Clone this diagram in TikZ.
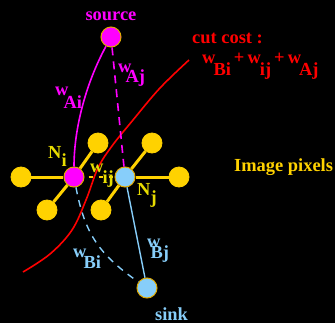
\documentclass[tikz,border=0pt]{standalone}
\usepackage{fontspec}
\setmainfont{Liberation Serif}
\definecolor{gold}{RGB}{255,210,0}
\definecolor{goldline}{RGB}{225,170,0}
\definecolor{nyel}{RGB}{232,220,0}
\definecolor{mag}{RGB}{255,0,255}
\definecolor{lblue}{RGB}{135,206,250}
\definecolor{cred}{RGB}{255,0,0}
\newcommand\wl[3]{w\kern#1bp\raisebox{-#2bp}{#3}}
\begin{document}
\begin{tikzpicture}[x=1bp,y=-1bp,
  every node/.style={font=\fontsize{18.5}{20}\selectfont\bfseries},
  pix/.style={circle,fill=gold,draw=gold,line width=0.8bp,minimum size=20bp,inner sep=0pt},
  term/.style={circle,draw=goldline,line width=1bp,minimum size=20bp,inner sep=0pt},
  lab/.style={anchor=base west,inner sep=0pt},
  yedge/.style={gold,line width=3bp},
]
\fill[black] (0,0) rectangle (335,323);
\useasboundingbox (0,0) rectangle (335,323);

% cut curve
\draw[cred,line width=1.6bp] plot[smooth,tension=0.6] coordinates {(189,60) (160,88) (133,120) (112,146) (98,168) (86,200) (72,230) (50,254) (23,272)};

% pixel nodes
\node[pix] (p1) at (21,177) {};
\node[pix] (p2) at (98,143) {};
\node[pix] (p3) at (47,210) {};
\node[pix] (p4) at (152,143) {};
\node[pix] (p5) at (101,210) {};
\node[pix] (p6) at (179,177) {};
\node[term,fill=mag] (Ni) at (74,177) {};
\node[term,fill=lblue] (Nj) at (125,177) {};
\node[term,fill=mag] (src) at (111,37) {};
\node[term,fill=lblue] (snk) at (147,288) {};

% yellow edges
\draw[yedge] (Ni) -- (p1);
\draw[yedge] (Ni) -- (p2);
\draw[yedge] (Ni) -- (p3);
\draw[yedge] (Nj) -- (p4);
\draw[yedge] (Nj) -- (p5);
\draw[yedge] (Nj) -- (p6);
\draw[gold,line width=2bp,dash pattern=on 4bp off 6bp,dash phase=-4bp] (Ni) -- (Nj);

% t-links
\draw[mag,line width=1.6bp] (src) .. controls (85,85) and (74,130) .. (Ni);
\draw[mag,line width=1.6bp,dash pattern=on 8bp off 6bp] (src) -- (Nj);
\draw[lblue,line width=1.4bp] (Nj) -- (snk);
\draw[lblue,line width=1.4bp,dash pattern=on 7bp off 6bp] (Ni) .. controls (85,235) and (100,255) .. (snk);

% labels
\node[lab,mag,anchor=base] (tsrc) at (111,20) {source};
\node[lab,lblue] (tsnk) at (155,320) {sink};
\node[lab,mag] (wai) at (55,95) {\wl{-5}{13}{Ai}};
\node[lab,mag] (waj) at (118,72) {\wl{-6}{10}{Aj}};
\node[lab,nyel] (wij) at (90,172) {\wl{-1}{11}{ij}};
\node[lab,lblue] (wbj) at (147,247) {\wl{-10}{11}{Bj}};
\node[lab,lblue] (wbi) at (73,257) {\wl{-3}{11}{Bi}};
\node[lab,nyel] (ni) at (48,158) {N\raisebox{-8bp}{i}};
\node[lab,nyel] (nj) at (137,195) {N\raisebox{-8bp}{j}};
\node[lab,cred] (cc) at (192,43) {cut cost :};
\node[lab,cred] (cf) at (202,63) {\wl{-2}{12}{Bi}\,+\,\wl{-1}{12}{ij}\,+\,\wl{-2}{12}{Aj}};
\node[lab,gold] (ip) at (234,171) {Image pixels};
\end{tikzpicture}
\end{document}
